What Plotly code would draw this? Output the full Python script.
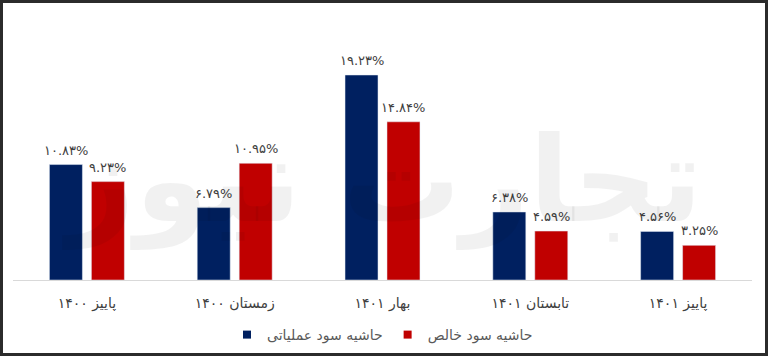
import plotly.graph_objects as go

categories = ["پاییز ۱۴۰۰", "زمستان ۱۴۰۰", "بهار ۱۴۰۱", "تابستان ۱۴۰۱", "پاییز ۱۴۰۱"]
operating_margin = [10.83, 6.79, 19.23, 6.38, 4.56]
net_margin = [9.23, 10.95, 14.84, 4.59, 3.25]
series_names = ["حاشیه سود عملیاتی", "حاشیه سود خالص"]
colors = ["#002060", "#C00000"]

FA = str.maketrans("0123456789", "۰۱۲۳۴۵۶۷۸۹")

def fa_pct(v):
    return f"{v:.2f}%".translate(FA)

W, H = 768, 356
L, R, T, B = 13, 16, 30, 76
FONT = "DejaVu Sans"
pw = W - L - R
ph = H - T - B
BARGAP = 0.432
slot_px = (1 - BARGAP) * (pw / len(categories)) / 2

fig = go.Figure()
annotations = []
for i, (name, vals, col) in enumerate(zip(series_names, [operating_margin, net_margin], colors)):
    fig.add_trace(go.Bar(
        x=categories, y=vals, name=name, marker_color=col,
        cliponaxis=False, showlegend=False,
    ))
    shift = (i - 0.5) * slot_px
    for c, v in zip(categories, vals):
        annotations.append(dict(
            x=c, y=v, xref="x", yref="y", text=fa_pct(v), showarrow=False,
            xshift=shift, yanchor="bottom", yshift=5,
            font=dict(family=FONT, size=13, color="#404040"),
        ))
for name, col in zip(series_names, colors):
    fig.add_trace(go.Scatter(
        x=[None], y=[None], mode="markers", name=name,
        marker=dict(symbol="square", size=8, color=col),
    ))

annotations.append(dict(text="<b>تجارت نیوز</b>", x=0.5, y=0.4, xref="paper", yref="paper",
                        showarrow=False,
                        font=dict(family=FONT, size=118, color="rgba(0,0,0,0.055)")))

fig.update_layout(
    width=W, height=H,
    margin=dict(l=L, r=R, t=T, b=B, autoexpand=False),
    paper_bgcolor="white", plot_bgcolor="white",
    barmode="group", bargap=BARGAP, bargroupgap=0.214,
    showlegend=True,
    legend=dict(orientation="h", x=0.5, xanchor="center", y=1 - 335 / H, yref="container",
                yanchor="middle", font=dict(family=FONT, size=14, color="#595959"),
                traceorder="normal", itemwidth=30),
    xaxis=dict(showline=True, linecolor="#d9d9d9", linewidth=1, showgrid=False,
               ticks="", tickfont=dict(family=FONT, size=14, color="#404040"),
               ticklabelstandoff=10, automargin=False),
    yaxis=dict(visible=False, range=[0, ph / 10.66], showgrid=False, zeroline=False,
               automargin=False),
    shapes=[dict(type="rect", xref="paper", yref="paper",
                 x0=(1.5 - L) / pw, x1=(W - 1.5 - L) / pw,
                 y0=-(B - 1.5) / ph, y1=1 + (T - 1.5) / ph,
                 line=dict(color="#2b2b2b", width=3), layer="above")],
    annotations=annotations,
)

fig.write_html("out.html", config={"displayModeBar": False},
               post_script="document.body.style.margin='0';")
